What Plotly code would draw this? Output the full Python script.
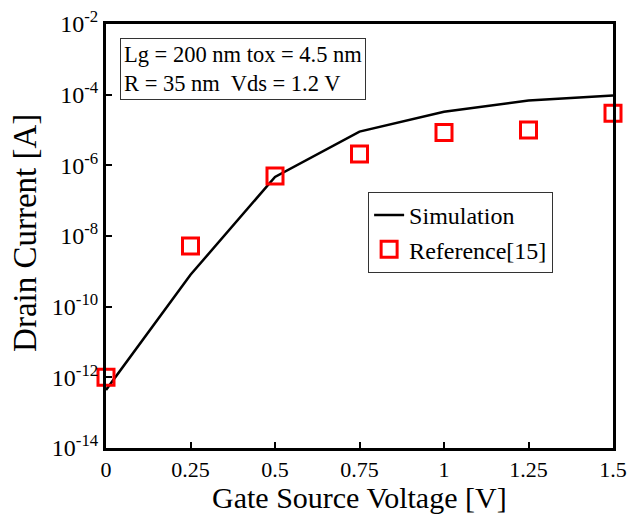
import plotly.graph_objects as go

vgs = [0, 0.25, 0.5, 0.75, 1.0, 1.25, 1.5]
sim_current = [4.4e-13, 8e-10, 4.7e-7, 9e-6, 3.3e-5, 6.8e-5, 9.5e-5]
ref_current = [1e-12, 5.2e-9, 5e-7, 2.1e-6, 8.5e-6, 1e-5, 3e-5]

ytick_vals = [1e-14, 1e-12, 1e-10, 1e-8, 1e-6, 1e-4, 1e-2]
ytick_text = ["10<sup>-14</sup>", "10<sup>-12</sup>", "10<sup>-10</sup>", "10<sup>-8</sup>",
              "10<sup>-6</sup>", "10<sup>-4</sup>", "10<sup>-2</sup>"]
xtick_vals = [0, 0.25, 0.5, 0.75, 1.0, 1.25, 1.5]
xtick_text = ["0", "0.25", "0.5", "0.75", "1", "1.25", "1.5"]

font = "Liberation Serif, Times New Roman, serif"

fig = go.Figure()
fig.add_trace(go.Scatter(x=vgs, y=sim_current, mode="lines", name="Simulation",
                         line=dict(color="black", width=2.5), cliponaxis=False))
fig.add_trace(go.Scatter(x=vgs, y=ref_current, mode="markers", name="Reference[15]",
                         marker=dict(symbol="square-open", size=16, color="#ff0000",
                                     line=dict(width=3, color="#ff0000")), cliponaxis=False))

fig.update_layout(
    width=643, height=515,
    margin=dict(l=106, r=30, t=24, b=67, autoexpand=False),
    paper_bgcolor="white", plot_bgcolor="white",
    font=dict(family=font, color="black", size=22),
    showlegend=True,
    legend=dict(x=0.517, y=0.604, xanchor="left", yanchor="top",
                bordercolor="#333", borderwidth=1, bgcolor="white",
                font=dict(size=24, family=font), tracegroupgap=0),
    xaxis=dict(range=[0, 1.5], tickvals=xtick_vals, ticktext=xtick_text,
               showline=True, linecolor="black", linewidth=3, mirror=True,
               ticks="inside", ticklen=6, tickwidth=2, tickcolor="black",
               showgrid=False, zeroline=False, automargin=False,
               tickfont=dict(size=22, family=font)),
    yaxis=dict(type="log", range=[-14, -2], tickvals=ytick_vals, ticktext=ytick_text,
               showline=True, linecolor="black", linewidth=3, mirror=True,
               ticks="inside", ticklen=6, tickwidth=2, tickcolor="black",
               showgrid=False, zeroline=False, automargin=False,
               tickfont=dict(size=24, family=font)),
)

fig.add_annotation(xref="paper", yref="paper", x=0.5, y=-0.1156, xanchor="center", yanchor="middle",
                   text="Gate Source Voltage [V]", showarrow=False,
                   font=dict(size=30, family=font, color="black"))
fig.add_annotation(xref="paper", yref="paper", x=-0.16, y=0.507, xanchor="center", yanchor="middle",
                   text="Drain Current [A]", showarrow=False, textangle=-90,
                   font=dict(size=33, family=font, color="black"))

fig.add_annotation(xref="paper", yref="paper", x=0.028, y=0.967, xanchor="left", yanchor="top",
                   text="Lg = 200 nm tox = 4.5 nm<br>R = 35 nm  Vds = 1.2 V",
                   showarrow=False, align="left", bordercolor="#333", borderwidth=1,
                   borderpad=3, bgcolor="white", font=dict(size=22.5, family=font, color="black"))

fig.write_html("out.html", config={"displayModeBar": False},
               post_script="document.body.style.margin='0';")
